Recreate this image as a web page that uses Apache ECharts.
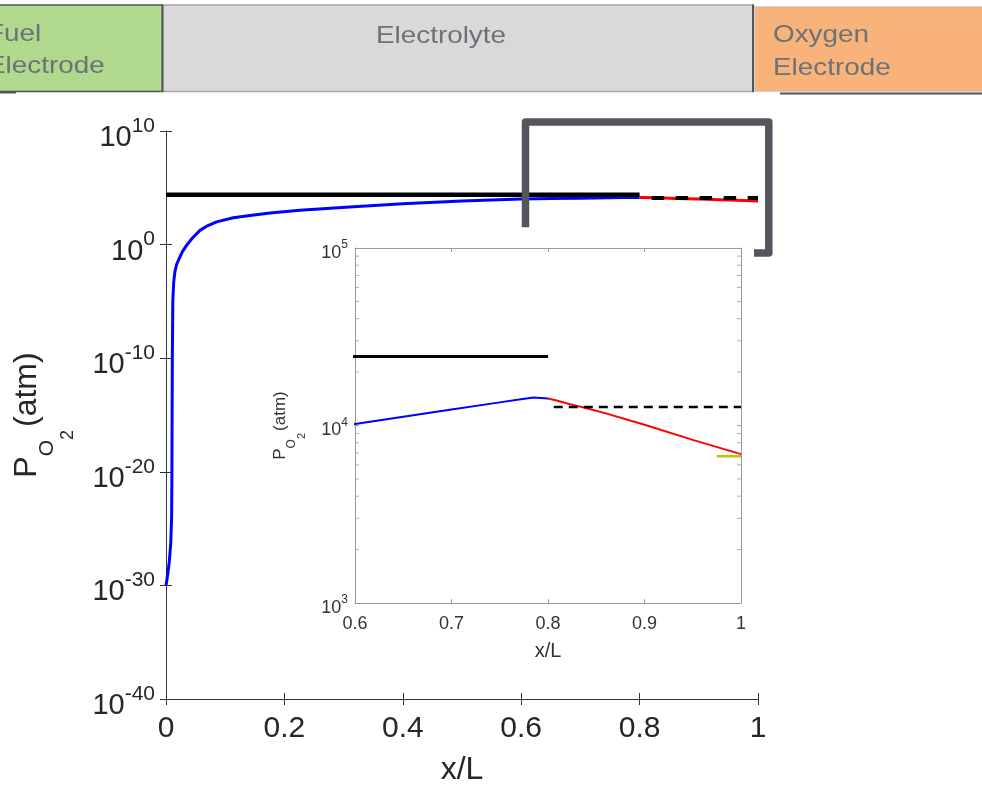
<!DOCTYPE html>
<html>
<head>
<meta charset="utf-8">
<script src="https://cdn.jsdelivr.net/npm/echarts@6/dist/echarts.min.js"></script>
<style>
  html, body { margin: 0; padding: 0; background: #fff; }
  #chart { width: 982px; height: 787px; }
</style>
</head>
<body>
<div id="chart"></div>
<script>
var FONT = 'Liberation Sans, Arial, Helvetica, sans-serif';
var INK = '#262626';

// oxygen partial pressure profile (atm) against x/L
var blueX = [0, 0.003, 0.0056, 0.008, 0.0095, 0.010, 0.0107, 0.0115, 0.013, 0.015, 0.018, 0.0225, 0.028, 0.035,
             0.045, 0.0574, 0.07, 0.0856, 0.1137, 0.142, 0.176, 0.226, 0.31, 0.4, 0.5,
             0.6, 0.65, 0.7, 0.75, 0.77, 0.785, 0.8];
var blueP = [1e-30, 1e-29, 1.3e-28, 5e-27, 1e-24, 1e-20, 1e-10, 1e-5, 5e-4, 4e-3, 1.8e-2, 6.3e-2, 0.25, 0.89,
             4.0, 17.8, 45, 100, 234, 372, 603, 1050, 2090, 3980, 6760,
             1.02e4, 1.12e4, 1.23e4, 1.35e4, 1.40e4, 1.44e4, 1.42e4];
var redX = [0.8, 0.81, 0.82, 0.83, 0.84, 0.86, 0.9, 0.95, 1.0];
var redP = [1.42e4, 1.38e4, 1.33e4, 1.29e4, 1.25e4, 1.17e4, 1.01e4, 8.3e3, 6.9e3];
var blackX = [0, 0.8];
var blackP = [2.45e4, 2.45e4];
var dashX = [0.806, 1];
var dashP = [1.27e4, 1.27e4];
var yellowX = [0.975, 1];
var yellowP = [6.7e3, 6.7e3];
// log minor ticks of the inset
var insetMinor = [2e3, 3e3, 4e3, 5e3, 6e3, 7e3, 8e3, 9e3, 2e4, 3e4, 4e4, 5e4, 6e4, 7e4, 8e4, 9e4];

function pts(xs, ps) {
  return xs.map(function (x, i) { return [x, ps[i]]; });
}
function powLabel(v) {
  return '{b|10}{s|' + Math.round(Math.log10(v)) + '}';
}
// rich token; shift moves the glyphs down (+) or up (-) by padding one side
function tok(size, shift, color, extra) {
  return { fontSize: size, lineHeight: size, verticalAlign: 'middle', color: color, fontFamily: FONT,
           padding: shift >= 0 ? [2 * shift, 0, 0, extra || 0] : [0, 0, -2 * shift, extra || 0] };
}

var mainTick = { show: true, inside: true, length: 6, lineStyle: { color: '#333' } };
var insetTick = { show: true, inside: true, length: 4, lineStyle: { color: '#9a9a9a' } };
var mainLine = { show: true, lineStyle: { color: '#333', width: 1 } };
var insetLine = { show: true, lineStyle: { color: '#9a9a9a', width: 1 } };

var option = {
  animation: false,
  backgroundColor: '#fff',
  grid: [
    { left: 166, top: 131, width: 592, height: 568, outerBoundsMode: 'none', containLabel: false },
    { left: 355, top: 248, width: 386, height: 355, outerBoundsMode: 'none', containLabel: false,
      show: true, backgroundColor: '#fff', borderWidth: 0, z: 5 }
  ],
  xAxis: [
    {
      type: 'value', gridIndex: 0, min: 0, max: 1, interval: 0.2,
      axisLine: mainLine, axisTick: mainTick, splitLine: { show: false },
      axisLabel: { fontSize: 30, color: INK, fontFamily: FONT, margin: 15, showMinLabel: true, showMaxLabel: true },
      name: 'x/L', nameLocation: 'middle', nameGap: 55, nameMoveOverlap: false,
      nameTextStyle: { fontSize: 32, color: INK, fontFamily: FONT }
    },
    {
      type: 'value', gridIndex: 0, position: 'top', min: 0, max: 1, interval: 0.2,
      axisLine: mainLine, axisTick: mainTick, axisLabel: { show: false }, splitLine: { show: false }
    },
    {
      type: 'value', gridIndex: 1, min: 0.6, max: 1, interval: 0.1, z: 6,
      axisLine: insetLine, axisTick: insetTick, splitLine: { show: false },
      axisLabel: { fontSize: 18, color: '#333', fontFamily: FONT, margin: 12, showMinLabel: true, showMaxLabel: true },
      name: 'x/L', nameLocation: 'middle', nameGap: 38, nameMoveOverlap: false,
      nameTextStyle: { fontSize: 20, color: '#333', fontFamily: FONT }
    },
    {
      type: 'value', gridIndex: 1, position: 'top', min: 0.6, max: 1, interval: 0.1, z: 6,
      axisLine: insetLine, axisTick: insetTick, axisLabel: { show: false }, splitLine: { show: false }
    }
  ],
  yAxis: [
    {
      // min a hair under 1e-40 so the 10^-40 tick survives rounding of log10
      type: 'log', logBase: 10, gridIndex: 0, min: 0.999e-40, max: 1e10, splitNumber: 5,
      axisLine: mainLine, axisTick: mainTick, splitLine: { show: false },
      axisLabel: {
        margin: 11, formatter: powLabel, showMinLabel: true, showMaxLabel: true, hideOverlap: false,
        rich: { b: tok(29, 7, INK), s: tok(21, -5, INK) }
      },
      name: '{p|P}{o|O}{t|2}{a|(atm)}', nameLocation: 'middle', nameRotate: 90, nameGap: 123,
      nameMoveOverlap: false,
      nameTextStyle: {
        color: INK, fontFamily: FONT,
        rich: { p: tok(32, 0, INK), a: tok(32, 0, INK, 3), o: tok(21, 20, INK), t: tok(18, 41, INK) }
      }
    },
    {
      type: 'log', logBase: 10, gridIndex: 0, position: 'right', min: 0.999e-40, max: 1e10, splitNumber: 5,
      axisLine: mainLine, axisTick: mainTick, axisLabel: { show: false }, splitLine: { show: false }
    },
    {
      type: 'log', logBase: 10, gridIndex: 1, min: 1e3, max: 1e5, z: 6,
      axisLine: insetLine, axisTick: insetTick, splitLine: { show: false },
      axisLabel: {
        margin: 7, formatter: powLabel, showMinLabel: true, showMaxLabel: true, hideOverlap: false,
        rich: { b: tok(18, 5, '#333'), s: tok(12, -3, '#333') }
      },
      name: '{p|P}{o|O}{t|2}{a|(atm)}', nameLocation: 'middle', nameRotate: 90, nameGap: 66,
      nameMoveOverlap: false,
      nameTextStyle: {
        color: '#333', fontFamily: FONT,
        rich: { p: tok(17, 0, '#333'), a: tok(17, 0, '#333', 2), o: tok(12, 11, '#333'), t: tok(11, 21, '#333') }
      }
    },
    {
      type: 'log', logBase: 10, gridIndex: 1, position: 'right', min: 1e3, max: 1e5, z: 6,
      axisLine: insetLine, axisTick: insetTick, axisLabel: { show: false }, splitLine: { show: false }
    }
  ],
  series: [
    // main plot
    { type: 'line', xAxisIndex: 0, yAxisIndex: 0, data: pts(blueX, blueP), symbol: 'none',
      lineStyle: { color: '#0000ff', width: 3 }, z: 2 },
    { type: 'line', xAxisIndex: 0, yAxisIndex: 0, data: pts(redX, redP), symbol: 'none',
      lineStyle: { color: '#ff0000', width: 3 }, z: 2 },
    { type: 'line', xAxisIndex: 0, yAxisIndex: 0, data: pts(blackX, blackP), symbol: 'none',
      lineStyle: { color: '#000', width: 4.5 }, z: 3 },
    { type: 'line', xAxisIndex: 0, yAxisIndex: 0, data: pts(dashX, dashP), symbol: 'none',
      lineStyle: { color: '#000', width: 4, type: [12.5, 11.5], dashOffset: 15.5 }, z: 3 },
    // inset
    { type: 'line', xAxisIndex: 2, yAxisIndex: 2, data: pts(blueX, blueP), symbol: 'none',
      lineStyle: { color: '#0000ff', width: 2 }, z: 7 },
    { type: 'line', xAxisIndex: 2, yAxisIndex: 2, data: pts(redX, redP), symbol: 'none',
      lineStyle: { color: '#ff0000', width: 2 }, z: 7 },
    { type: 'line', xAxisIndex: 2, yAxisIndex: 2, data: pts(blackX, blackP), symbol: 'none',
      lineStyle: { color: '#000', width: 3 }, z: 8 },
    { type: 'line', xAxisIndex: 2, yAxisIndex: 2, data: pts(dashX, dashP), symbol: 'none',
      lineStyle: { color: '#000', width: 2.5, type: [9, 6] }, z: 8 },
    { type: 'line', xAxisIndex: 2, yAxisIndex: 2, data: pts(yellowX, yellowP), symbol: 'none',
      lineStyle: { color: '#c8c000', width: 2.5 }, z: 8 },
    { type: 'scatter', xAxisIndex: 2, yAxisIndex: 2, symbol: 'rect', symbolSize: [4, 1], symbolOffset: [2, 0],
      data: insetMinor.map(function (v) { return [0.6, v]; }), itemStyle: { color: '#9a9a9a' }, silent: true, z: 8 },
    { type: 'scatter', xAxisIndex: 2, yAxisIndex: 2, symbol: 'rect', symbolSize: [4, 1], symbolOffset: [-2, 0],
      data: insetMinor.map(function (v) { return [1, v]; }), itemStyle: { color: '#9a9a9a' }, silent: true, z: 8 }
  ],
  graphic: [
    // header strip
    { type: 'rect', shape: { x: -3, y: 5, width: 165.5, height: 86.5 },
      style: { fill: '#b0d98e', stroke: '#50555b', lineWidth: 1.5 }, z: 1 },
    { type: 'rect', shape: { x: 162.5, y: 5, width: 591, height: 86.5 },
      style: { fill: '#d9d9d9', stroke: '#a8a8a8', lineWidth: 1.5 }, z: 1 },
    { type: 'line', shape: { x1: 162.5, y1: 4.5, x2: 162.5, y2: 92 }, style: { stroke: '#50555b', lineWidth: 2 }, z: 2 },
    { type: 'line', shape: { x1: 753, y1: 4.5, x2: 753, y2: 92 }, style: { stroke: '#50555b', lineWidth: 2 }, z: 2 },
    { type: 'rect', shape: { x: 754.5, y: 6.5, width: 230, height: 85 },
      style: { fill: '#f8b37b', stroke: '#d2d2d2', lineWidth: 1 }, z: 1 },
    { type: 'line', shape: { x1: 0, y1: 92.5, x2: 16, y2: 92.5 }, style: { stroke: '#50555b', lineWidth: 2 }, z: 2 },
    { type: 'line', shape: { x1: 780, y1: 93.5, x2: 982, y2: 93.5 }, style: { stroke: '#50555b', lineWidth: 2 }, z: 2 },
    { type: 'text', x: -13, y: 34.2, scaleX: 1.16, z: 3,
      style: { text: 'Fuel', fill: '#6d7178', fontSize: 24, fontFamily: FONT, verticalAlign: 'middle', align: 'left' } },
    { type: 'text', x: -13, y: 66.5, scaleX: 1.16, z: 3,
      style: { text: 'Electrode', fill: '#6d7178', fontSize: 24, fontFamily: FONT, verticalAlign: 'middle', align: 'left' } },
    { type: 'text', x: 441, y: 36.5, scaleX: 1.16, z: 3,
      style: { text: 'Electrolyte', fill: '#6d7178', fontSize: 24, fontFamily: FONT, verticalAlign: 'middle', align: 'center' } },
    { type: 'text', x: 773, y: 35.8, scaleX: 1.16, z: 3,
      style: { text: 'Oxygen', fill: '#6d7178', fontSize: 24, fontFamily: FONT, verticalAlign: 'middle', align: 'left' } },
    { type: 'text', x: 773, y: 68.5, scaleX: 1.16, z: 3,
      style: { text: 'Electrode', fill: '#6d7178', fontSize: 24, fontFamily: FONT, verticalAlign: 'middle', align: 'left' } },
    // zoom bracket
    { type: 'polyline', z: 100,
      shape: { points: [[525.5, 227.3], [525.5, 122], [768.8, 122], [768.8, 253], [754, 253]] },
      style: { stroke: '#53575d', lineWidth: 7.5, lineJoin: 'round', fill: null } }
  ]
};

var chart = echarts.init(document.getElementById('chart'));
chart.setOption(option);
</script>
</body>
</html>
